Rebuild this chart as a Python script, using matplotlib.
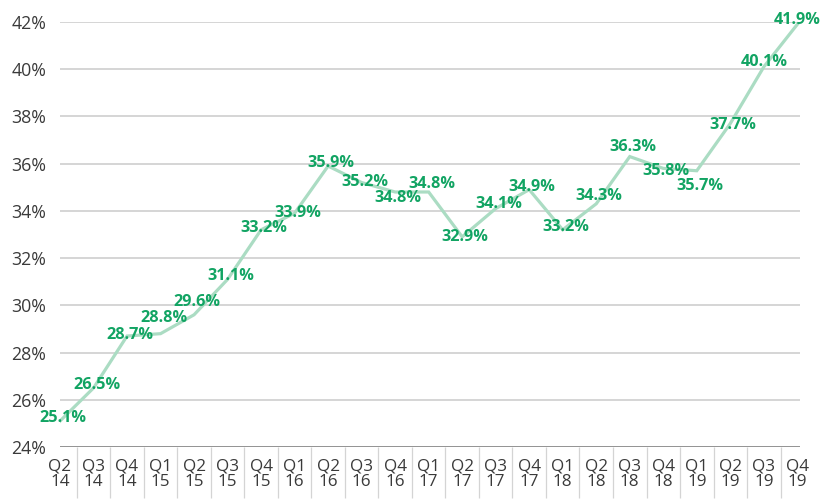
import matplotlib
matplotlib.use("Agg")
import matplotlib.pyplot as plt
from matplotlib.ticker import FixedLocator

plt.rcParams["font.family"] = ["Open Sans", "DejaVu Sans"]

# Veri
quarters = ["Q2", "Q3", "Q4", "Q1", "Q2", "Q3", "Q4", "Q1", "Q2", "Q3", "Q4", "Q1",
            "Q2", "Q3", "Q4", "Q1", "Q2", "Q3", "Q4", "Q1", "Q2", "Q3", "Q4"]
years = ["14", "14", "14", "15", "15", "15", "15", "16", "16", "16", "16", "17",
         "17", "17", "17", "18", "18", "18", "18", "19", "19", "19", "19"]
values = [25.1, 26.5, 28.7, 28.8, 29.6, 31.1, 33.2, 33.9, 35.9, 35.2, 34.8, 34.8,
          32.9, 34.1, 34.9, 33.2, 34.3, 36.3, 35.8, 35.7, 37.7, 40.1, 41.9]

# Etiket kaydırmaları (piksel)
label_dy = [-3, -3, -1, -16, -13, -3, -2, 0, -3, -1, 6, -8,
            0, -5, -3, -3, -8, -10, 3, 15, 1, -5, -4]

green = "#12a463"
line_c = "#abdcc3"

fig = plt.figure(figsize=(8.37, 4.99), dpi=100)
ax = fig.add_axes([60 / 837, 52 / 499, 740 / 837, 425 / 499])

x = list(range(len(values)))
ax.plot(x, values, color=line_c, lw=2.3, solid_joinstyle="miter", zorder=3)

for i, v in enumerate(values):
    dx = 0 if i >= 21 else 3
    ax.annotate(f"{v:.1f}%", (i, v), xytext=(dx * 0.72, -label_dy[i] * 0.72),
                textcoords="offset points", ha="center", va="center",
                color=green, fontsize=11.7, fontweight="bold", zorder=4,
                annotation_clip=False)

ax.set_xlim(0, 22.08)
ax.set_ylim(24, 42)
ax.set_yticks(range(24, 43, 2))
ax.set_yticklabels([f"{t}%" for t in range(24, 43, 2)])
ax.grid(axis="y", color="#cacaca", lw=1.1)
ax.axhline(24, color="#8e8e8e", lw=1.3, zorder=2)

ax.set_xticks(x)
ax.set_xticklabels([f"{q}\n{y}" for q, y in zip(quarters, years)], linespacing=0.95)
ax.xaxis.set_minor_locator(FixedLocator([i + 0.5 for i in range(len(values) - 1)]))
ax.tick_params(axis="x", which="major", length=0, pad=8, labelsize=12.3, labelcolor="#3a3a3a")
ax.tick_params(axis="x", which="minor", length=37, width=0.9, color="#d4d4d4", direction="out")
ax.tick_params(axis="y", length=0, pad=10, labelsize=12.8, labelcolor="#3a3a3a")

for s in ax.spines.values():
    s.set_visible(False)

fig.savefig("out.png", dpi=100)
